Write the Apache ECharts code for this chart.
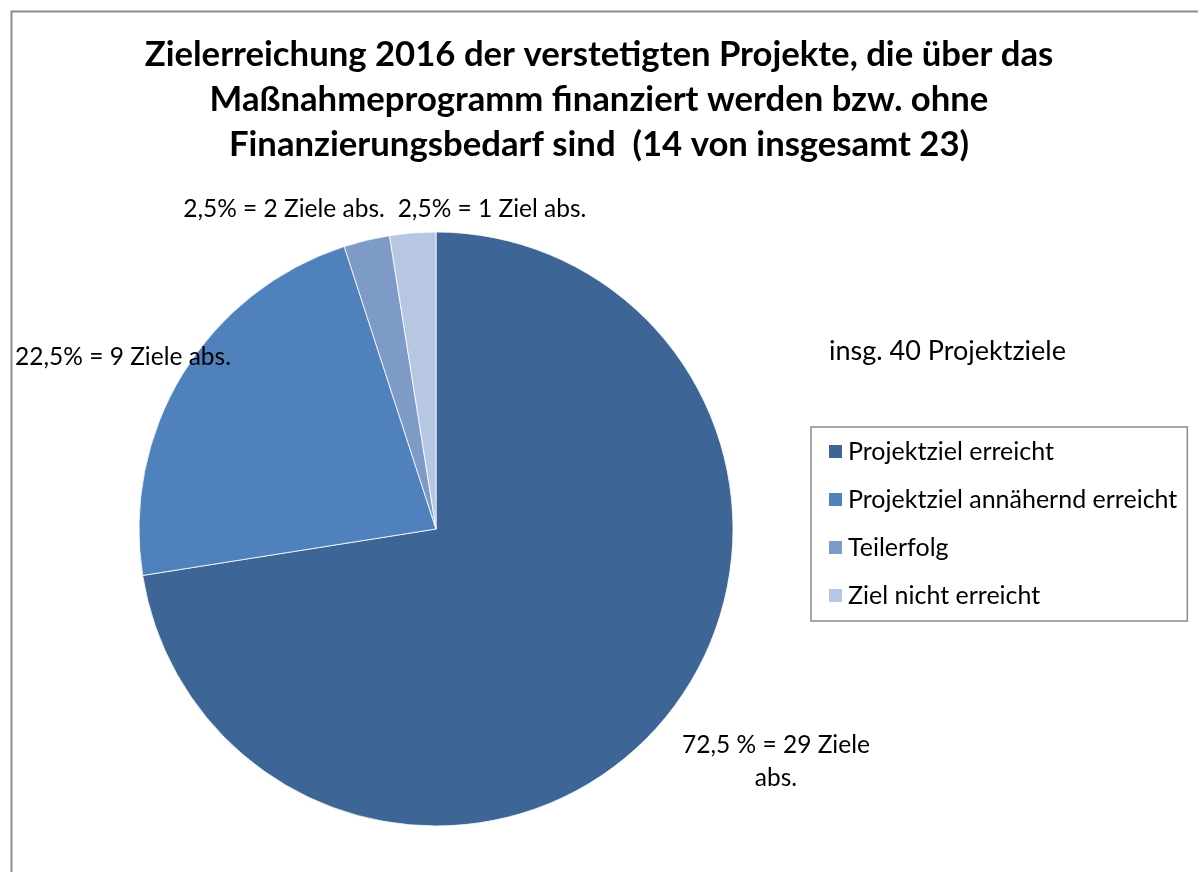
<!DOCTYPE html>
<html>
<head>
<meta charset="utf-8">
<script src="https://cdn.jsdelivr.net/npm/echarts@6/dist/echarts.min.js"></script>
<style>
html,body{margin:0;padding:0;background:#fff;}
#chart{width:1198px;height:872px;}
</style>
</head>
<body>
<div id="chart"></div>
<script>
const titleText = 'Zielerreichung 2016 der verstetigten Projekte, die über das\nMaßnahmeprogramm finanziert werden bzw. ohne\nFinanzierungsbedarf sind  (14 von insgesamt 23)';
const categories = ['Projektziel erreicht', 'Projektziel annähernd erreicht', 'Teilerfolg', 'Ziel nicht erreicht'];
const values = [29, 9, 1, 1];
const labelTexts = ['72,5 % = 29 Ziele\nabs.', '22,5% = 9 Ziele abs.', '2,5% = 2 Ziele abs.', '2,5% = 1 Ziel abs.'];
const totalText = 'insg. 40 Projektziele';
const colors = ['#3D6696', '#4F81BD', '#7E9BC8', '#B7C6E1'];
const labelPos = [[776, 762], [123, 357], [284, 209], [492, 209]];

const FONT = 'Lato';
const chart = echarts.init(document.getElementById('chart'), null, {renderer: 'canvas'});
chart.setOption({
  backgroundColor: '#fff',
  animation: false,
  color: colors,
  title: {
    text: titleText,
    left: 'center',
    top: 32,
    padding: [0, 0, 0, 22],
    textStyle: {fontFamily: FONT, fontWeight: 'bold', fontSize: 34.7, lineHeight: 45, color: '#000'}
  },
  graphic: [
    {type: 'rect', left: 9, top: 9, shape: {width: 1400, height: 1000}, style: {fill: 'none', stroke: '#8c8c8c', lineWidth: 2}, silent: true, z: 0},
    {type: 'text', left: 829, top: 338, style: {text: totalText, fontFamily: FONT, fontSize: 27, fill: '#000'}}
  ],
  legend: {
    orient: 'vertical',
    left: 811,
    top: 427,
    icon: 'rect',
    itemWidth: 15,
    itemHeight: 15,
    itemGap: 23,
    padding: [12, 10, 13, 16],
    borderColor: '#8c8c8c',
    borderWidth: 1.5,
    textStyle: {fontFamily: FONT, fontSize: 25, color: '#000'},
    data: categories
  },
  series: [{
    type: 'pie',
    center: [436, 529],
    radius: 297,
    startAngle: 90,
    clockwise: true,
    itemStyle: {borderColor: '#fff', borderWidth: 0.8},
    label: {
      show: true,
      formatter: p => labelTexts[p.dataIndex],
      fontFamily: FONT,
      fontSize: 24.5,
      lineHeight: 33,
      color: '#000',
      align: 'center',
      overflow: 'none'
    },
    labelLine: {show: false},
    labelLayout: p => ({x: labelPos[p.dataIndex][0], y: labelPos[p.dataIndex][1], align: 'center', verticalAlign: 'middle'}),
    emphasis: {disabled: true},
    data: categories.map((c, i) => ({name: c, value: values[i]}))
  }]
});
</script>
</body>
</html>
